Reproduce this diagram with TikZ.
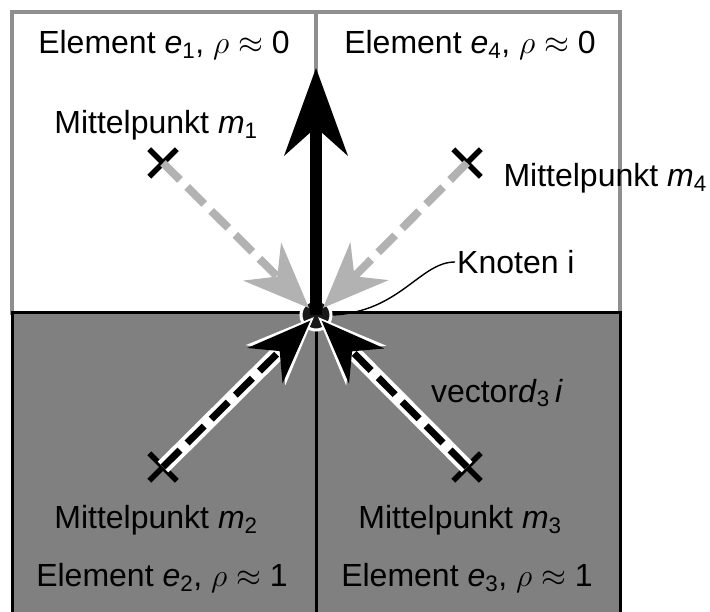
\RequirePackage{fix-cm}
\documentclass[tikz,border=0pt]{standalone}
\usepackage{fontspec}
\setmainfont{Liberation Sans}
\usetikzlibrary{arrows.meta,shapes.misc}
\definecolor{rahmengrau}{gray}{0.56}
\definecolor{pfeilgrau}{gray}{0.70}
\definecolor{fuellgrau}{gray}{0.50}
\tikzset{
  leerbox/.style={draw=rahmengrau,line width=4pt,fill=white},
  vollbox/.style={draw=black,line width=3pt,fill=fuellgrau},
  kreuz/.style={cross out,draw=black,line width=5.5pt,minimum size=22pt,inner sep=0pt},
  knoten/.style={circle,fill=black!90,draw=white,line width=3pt,minimum size=30pt,inner sep=0pt},
  graupfeil/.style={draw=pfeilgrau,line width=8pt,dash pattern=on 24pt off 10pt,
    -{Stealth[length=66pt,width=54pt,line width=0pt]}},
  weissrand/.style={draw=white,line width=15pt,
    -{Stealth[length=68pt,width=56pt,line width=5pt]}},
  schwarzpfeil/.style={draw=black,line width=7pt,dash pattern=on 24pt off 10pt,
    -{Stealth[length=64pt,width=50pt,line width=0pt]}},
}
\begin{document}
\begin{tikzpicture}[x=1pt,y=-1pt,font=\fontsize{32}{38}\selectfont]
  \useasboundingbox (0,0) rectangle (710,612);
  % Elemente
  \draw[leerbox] (12,12) rectangle (316,313);
  \draw[leerbox] (316,12) rectangle (620,313);
  \draw[vollbox] (12,313) rectangle (316,622);
  \draw[vollbox] (316,313) rectangle (620,622);
  \node (e1) at (164,45) {Element \textit{e}\textsubscript{1}, $\rho\approx$ 0};
  \node (e4) at (470,45) {Element \textit{e}\textsubscript{4}, $\rho\approx$ 0};
  \node (e2) at (162,578) {Element \textit{e}\textsubscript{2}, $\rho\approx$ 1};
  \node (e3) at (467,578) {Element \textit{e}\textsubscript{3}, $\rho\approx$ 1};
  % Mittelpunkte
  \node[kreuz] (m1) at (163,163) {};
  \node[kreuz] (m4) at (467,163) {};
  \node[kreuz] (m2) at (163,467) {};
  \node[kreuz] (m3) at (467,467) {};
  \node (t1) at (156,125) {Mittelpunkt \textit{m}\textsubscript{1}};
  \node[anchor=west] (t4) at (500,178) {Mittelpunkt \textit{m}\textsubscript{4}};
  \node (t2) at (156,520) {Mittelpunkt \textit{m}\textsubscript{2}};
  \node (t3) at (460,520) {Mittelpunkt \textit{m}\textsubscript{3}};
  % Knoten
  \node[knoten] (k) at (316,315) {};
  \draw[graupfeil,shorten >=10pt] (m1.center) -- (k.center);
  \draw[graupfeil,shorten >=10pt] (m4.center) -- (k.center);
  \coordinate (oben) at (316,68);
  \draw[line width=12pt,-{Stealth[length=88pt,width=64pt,line width=0pt]}] (k.center) -- (oben);
  \draw[weissrand,shorten >=3pt] (m2.center) -- (k.center);
  \draw[schwarzpfeil,shorten >=8pt] (m2.center) -- (k.center);
  \draw[weissrand,shorten >=3pt] (m3.center) -- (k.center);
  \draw[schwarzpfeil,shorten >=8pt] (m3.center) -- (k.center);
  \node[anchor=west,inner sep=2pt] (ki) at (455,262) {Knoten i};
  \draw[line width=1.4pt] (k.east) .. controls (400,312) and (420,262) .. (ki.west);
  \node (vd) at (497,393) {vector\textit{d}\textsubscript{3}\,\textit{i}};
\end{tikzpicture}
\end{document}
